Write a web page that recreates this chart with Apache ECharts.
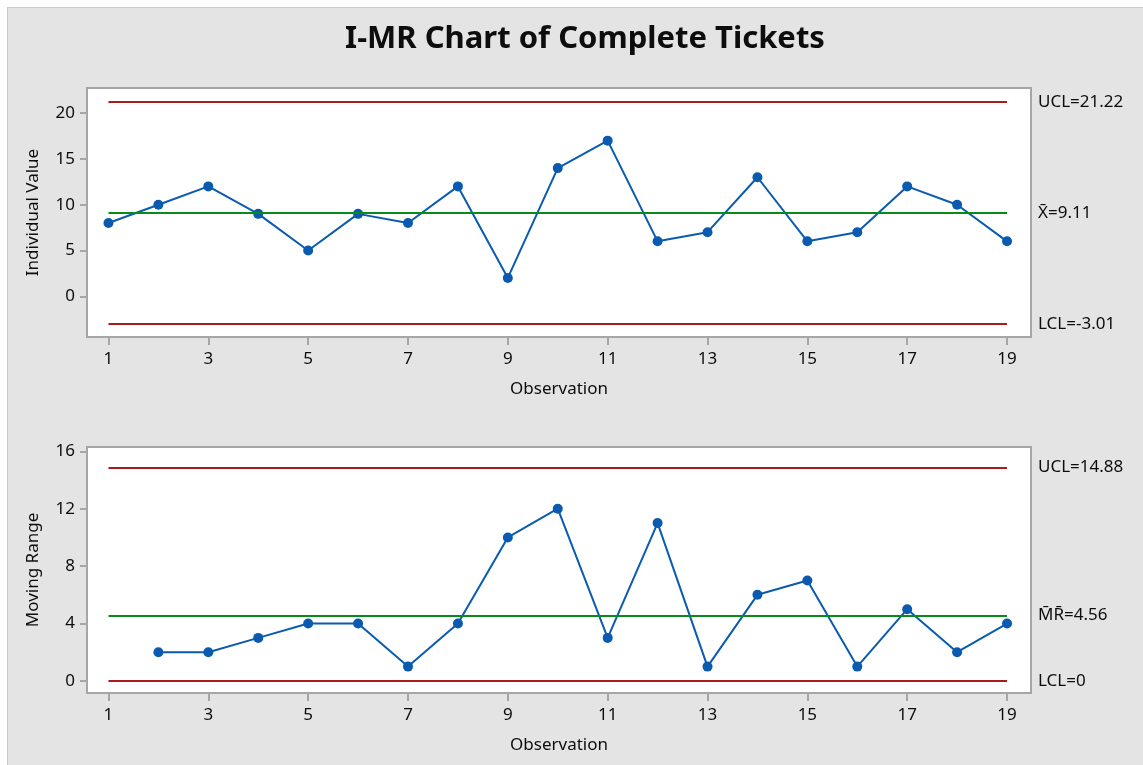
<!DOCTYPE html>
<html>
<head>
<meta charset="utf-8">
<script src="https://cdn.jsdelivr.net/npm/echarts@6/dist/echarts.min.js"></script>
<style>
html,body{margin:0;padding:0;background:#fff;}
#bg{position:absolute;left:7px;top:7px;width:1136px;height:758px;background:#e4e4e4;border-left:1px solid #cbcbcb;border-top:1px solid #cbcbcb;box-sizing:border-box;}
#chart{position:absolute;left:0;top:0;width:1143px;height:765px;}
</style>
</head>
<body>
<div id="bg"></div>
<div id="chart"></div>
<script>
const observations = [1,2,3,4,5,6,7,8,9,10,11,12,13,14,15,16,17,18,19];
const individualValues = [8,10,12,9,5,9,8,12,2,14,17,6,7,13,6,7,12,10,6];
const movingRanges = [null,2,2,3,4,4,1,4,10,12,3,11,1,6,7,1,5,2,4];
const xTickLabels = [1,3,5,7,9,11,13,15,17,19];
const iTicks = [0,5,10,15,20];
const mrTicks = [0,4,8,12,16];
const iLimits = {ucl: 21.22, center: 9.11, lcl: -3.01};
const mrLimits = {ucl: 14.88, center: 4.56, lcl: 0};
const iLabels = ['UCL=21.22', 'X\u0304=9.11', 'LCL=-3.01'];
const mrLabels = ['UCL=14.88', 'M\u0304R\u0304=4.56', 'LCL=0'];

const FONT = 'Noto Sans';
const TXT = '#0d0d0d';
const chart = echarts.init(document.getElementById('chart'), null, {renderer: 'canvas'});

function xAxisCfg(gridIndex) {
  return {
    type: 'value', gridIndex, min: 0.57, max: 19.48,
    name: 'Observation', nameLocation: 'middle', nameGap: 44,
    nameTextStyle: {fontFamily: FONT, fontSize: 17, color: TXT},
    axisLine: {show: false, onZero: false},
    splitLine: {show: false},
    axisTick: {show: true, length: 8, lineStyle: {color: '#a6a6a6', width: 2}, customValues: xTickLabels},
    axisLabel: {fontFamily: FONT, fontSize: 17, color: TXT, margin: 14, customValues: xTickLabels}
  };
}
function yAxisCfg(gridIndex, min, max, ticks, name) {
  return {
    type: 'value', gridIndex, min, max,
    name, nameLocation: 'middle', nameGap: 45,
    nameTextStyle: {fontFamily: FONT, fontSize: 17, color: TXT},
    axisLine: {show: false, onZero: false},
    splitLine: {show: false},
    axisTick: {show: true, length: 7, lineStyle: {color: '#a6a6a6', width: 2}, customValues: ticks},
    axisLabel: {fontFamily: FONT, fontSize: 17, color: TXT, margin: 12, customValues: ticks}
  };
}
function limitLines(lim, labels) {
  const mk = (v, color, text) => ([
    {coord: [observations[0], v], lineStyle: {color, width: 2, type: 'solid'},
     label: {show: true, position: 'end', formatter: text, distance: 31, fontFamily: FONT, fontSize: 17, color: TXT}},
    {coord: [observations[observations.length - 1], v]}
  ]);
  return {
    silent: true, symbol: 'none', animation: false,
    data: [
      mk(lim.ucl, '#a81c1c', labels[0]),
      mk(lim.center, '#0a8a1a', labels[1]),
      mk(lim.lcl, '#a81c1c', labels[2])
    ]
  };
}

chart.setOption({
  animation: false,
  backgroundColor: 'transparent',
  title: {
    text: 'I-MR Chart of Complete Tickets', left: 580, top: 19, textAlign: 'center',
    textStyle: {fontFamily: FONT, fontSize: 31, fontWeight: 'bold', color: '#0d0d0d'}
  },
  grid: [
    {left: 87, top: 88, width: 944, height: 249, show: true, backgroundColor: '#fff', borderColor: '#a6a6a6', borderWidth: 2},
    {left: 87, top: 447, width: 944, height: 246, show: true, backgroundColor: '#fff', borderColor: '#a6a6a6', borderWidth: 2}
  ],
  xAxis: [xAxisCfg(0), xAxisCfg(1)],
  yAxis: [
    yAxisCfg(0, -4.45, 22.75, iTicks, 'Individual Value'),
    yAxisCfg(1, -0.84, 16.3, mrTicks, 'Moving Range')
  ],
  series: [
    {
      type: 'line', xAxisIndex: 0, yAxisIndex: 0, clip: false,
      data: observations.map((o, i) => [o, individualValues[i]]),
      symbol: 'circle', symbolSize: 10,
      lineStyle: {color: '#0a5bb0', width: 2},
      itemStyle: {color: '#0a5bb0'},
      markLine: limitLines(iLimits, iLabels),
      z: 3
    },
    {
      type: 'line', xAxisIndex: 1, yAxisIndex: 1, clip: false,
      data: observations.map((o, i) => [o, movingRanges[i]]),
      symbol: 'circle', symbolSize: 10, connectNulls: false,
      lineStyle: {color: '#0a5bb0', width: 2},
      itemStyle: {color: '#0a5bb0'},
      markLine: limitLines(mrLimits, mrLabels),
      z: 3
    }
  ]
});
</script>
</body>
</html>
